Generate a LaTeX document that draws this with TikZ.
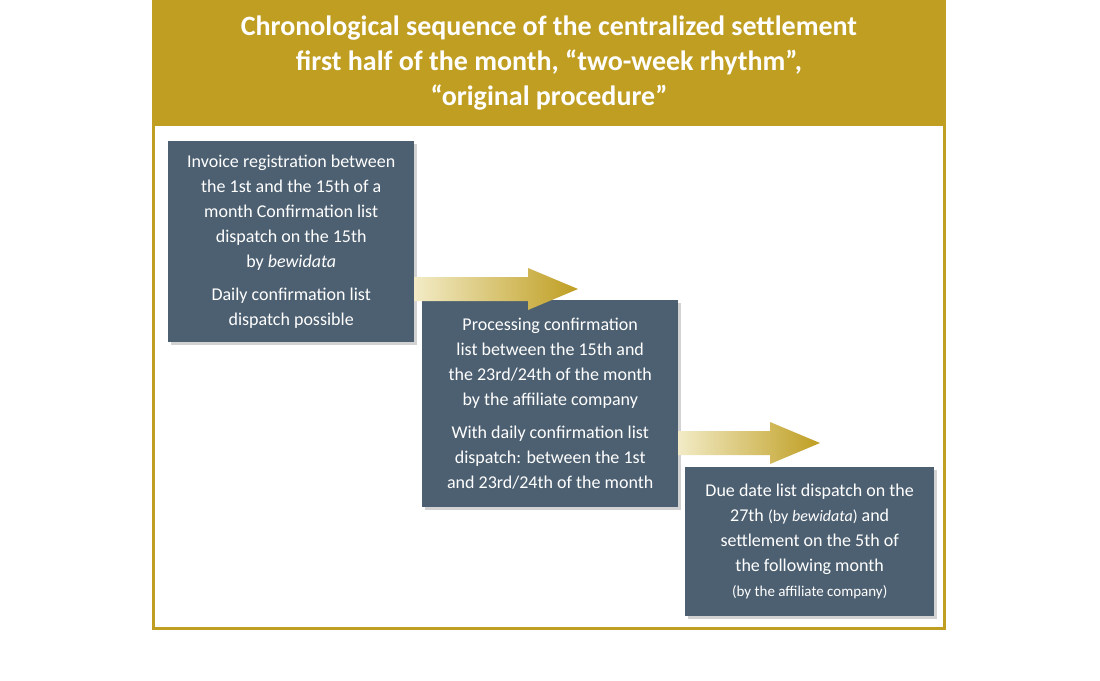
\documentclass[tikz,border=0pt]{standalone}
\usepackage{fontspec}
\setmainfont{Carlito}
\usetikzlibrary{shadows}
\definecolor{gold}{HTML}{BF9E22}
\definecolor{lgold}{HTML}{F2EBC6}
\definecolor{slate}{HTML}{4D6071}
\tikzset{
  stepbox/.style={fill=slate,text=white,align=center,inner sep=4pt,
    font=\fontsize{18}{25}\selectfont,drop shadow={shadow xshift=3pt,shadow yshift=-3pt,opacity=0.35}},
  goldarrow/.style={left color=lgold,right color=gold,draw=none}
}
\begin{document}
\begin{tikzpicture}[x=1pt,y=-1pt]
\useasboundingbox (0,0) rectangle (1100,680);
\fill[white] (0,0) rectangle (1100,680);
\draw[gold,line width=3pt,fill=white] (153.5,1.5) rectangle (944.5,628.5);
\fill[gold] (152,0) rectangle (946,126);
\node[text=white,align=center,font=\fontsize{28}{35}\bfseries\selectfont] (title) at (549,63)
 {Chronological sequence of the centralized settlement\\first half of the month, “two-week rhythm”,\\“original procedure”};
\node[stepbox,minimum width=246pt,minimum height=201pt,anchor=north west] (b1) at (168,141)
 {Invoice registration between\\the 1st and the 15th of a\\month Confirmation list\\dispatch on the 15th\\by \textit{bewidata}\\[8pt]Daily confirmation list\\dispatch possible};
\node[stepbox,minimum width=256pt,minimum height=207pt,anchor=north west] (b2) at (422,300)
 {Processing confirmation\\list between the 15th and\\the 23rd/24th of the month\\by the affiliate company\\[8pt]With daily confirmation list\\dispatch: between the 1st\\and 23rd/24th of the month};
\node[stepbox,minimum width=249pt,minimum height=149pt,anchor=north west] (b3) at (685,467)
 {Due date list dispatch on the\\27th {\fontsize{16}{25}\selectfont(by \textit{bewidata})} and\\settlement on the 5th of\\the following month\\{\fontsize{15}{18}\selectfont(by the affiliate company)}};
\coordinate (a1) at (414,289);
\coordinate (a2) at (678,443);
\path[goldarrow] (a1) ++(0,-12) -- ++(114,0) -- ++(0,-9) -- ++(50,21) -- ++(-50,21) -- ++(0,-9) -- ++(-114,0) -- cycle;
\path[goldarrow] (a2) ++(0,-12) -- ++(92,0) -- ++(0,-9) -- ++(50,21) -- ++(-50,21) -- ++(0,-9) -- ++(-92,0) -- cycle;
\end{tikzpicture}
\end{document}
